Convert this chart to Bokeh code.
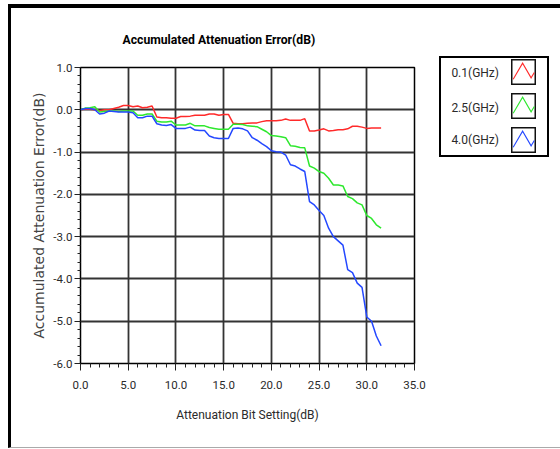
from bokeh.plotting import figure
from bokeh.layouts import row
from bokeh.models import Range1d, FixedTicker, PrintfTickFormatter, Div
from bokeh.embed import file_html
from bokeh.resources import INLINE

# ---------------- data ----------------
atten_setting = [0.0, 0.5, 1.0, 1.5, 2.0, 2.5, 3.0, 3.5, 4.0, 4.5, 5.0, 5.5, 6.0, 6.5, 7.0, 7.5,
                 8.0, 8.5, 9.0, 9.5, 10.0, 10.5, 11.0, 11.5, 12.0, 12.5, 13.0, 13.5, 14.0, 14.5, 15.0, 15.5,
                 16.0, 16.5, 17.0, 17.5, 18.0, 18.5, 19.0, 19.5, 20.0, 20.5, 21.0, 21.5, 22.0, 22.5, 23.0, 23.5,
                 24.0, 24.5, 25.0, 25.5, 26.0, 26.5, 27.0, 27.5, 28.0, 28.5, 29.0, 29.5, 30.0, 30.5, 31.0, 31.5]

err_0_1ghz = [0.0, 0.02, 0.01, 0.0, -0.02, 0.0, 0.0, 0.03, 0.06, 0.1, 0.1, 0.07, 0.09, 0.05, 0.06, 0.09,
              -0.17, -0.19, -0.19, -0.2, -0.2, -0.16, -0.16, -0.15, -0.13, -0.13, -0.13, -0.1, -0.1, -0.13, -0.11, -0.11,
              -0.32, -0.33, -0.33, -0.32, -0.31, -0.31, -0.28, -0.26, -0.26, -0.26, -0.25, -0.22, -0.25, -0.25, -0.25, -0.21,
              -0.5, -0.5, -0.48, -0.45, -0.5, -0.49, -0.47, -0.47, -0.45, -0.39, -0.39, -0.41, -0.44, -0.43, -0.43, -0.43]

err_2_5ghz = [0.0, 0.04, 0.05, 0.07, -0.05, -0.04, -0.03, -0.03, -0.04, -0.03, -0.03, -0.03, -0.13, -0.13, -0.1, -0.1,
              -0.27, -0.29, -0.29, -0.27, -0.36, -0.36, -0.36, -0.32, -0.38, -0.38, -0.38, -0.42, -0.44, -0.46, -0.46, -0.46,
              -0.34, -0.34, -0.35, -0.38, -0.39, -0.4, -0.46, -0.52, -0.61, -0.62, -0.64, -0.66, -0.85, -0.86, -0.89, -0.9,
              -1.33, -1.38, -1.46, -1.5, -1.62, -1.78, -1.78, -1.8, -2.05, -2.1, -2.2, -2.25, -2.5, -2.57, -2.72, -2.8]

err_4_0ghz = [0.0, 0.03, 0.03, 0.0, -0.1, -0.08, -0.03, -0.04, -0.05, -0.05, -0.05, -0.07, -0.19, -0.19, -0.15, -0.15,
              -0.33, -0.36, -0.37, -0.35, -0.44, -0.44, -0.44, -0.41, -0.48, -0.49, -0.49, -0.62, -0.66, -0.68, -0.68, -0.68,
              -0.44, -0.43, -0.45, -0.5, -0.66, -0.72, -0.8, -0.87, -0.97, -0.99, -1.0, -1.07, -1.3, -1.33, -1.4, -1.46,
              -2.17, -2.25, -2.38, -2.5, -2.8, -3.0, -3.1, -3.2, -3.78, -3.85, -4.1, -4.2, -4.9, -5.0, -5.35, -5.58]

series_names = ["0.1(GHz)", "2.5(GHz)", "4.0(GHz)"]
series_values = [err_0_1ghz, err_2_5ghz, err_4_0ghz]
series_colors = ["#ff2a2a", "#2ee82e", "#2448ff"]

x_major = [0, 5, 10, 15, 20, 25, 30, 35]
x_minor = list(range(0, 36))
y_major = [1, 0, -1, -2, -3, -4, -5, -6]
y_minor = [v / 5 for v in range(-30, 6)]

# ---------------- styles ----------------
FONT = "Roboto"
TXT = "#2a2a2a"
GRID = "#333333"

FRAME_W, FRAME_H = 334, 296
BL, BR, BT, BB = 69, 24, 59, 84
W = BL + FRAME_W + BR
H = BT + FRAME_H + BB
LEG_W = 122

# ---------------- main plot ----------------
p = figure(width=W, height=H, x_range=Range1d(0, 35), y_range=Range1d(-6, 1),
           output_backend="svg", toolbar_location=None,
           min_border_left=BL, min_border_right=BR, min_border_top=BT, min_border_bottom=BB)

p.title.text = "Accumulated Attenuation Error(dB)"
p.title.align = "left"
p.title.offset = 42
p.title.standoff = 41
p.title.text_font = FONT
p.title.text_font_size = "12.2px"
p.title.text_font_style = "bold"
p.title.text_color = "black"

p.xaxis.ticker = FixedTicker(ticks=x_major, minor_ticks=x_minor)
p.yaxis.ticker = FixedTicker(ticks=y_major, minor_ticks=y_minor)
p.xaxis.formatter = PrintfTickFormatter(format="%.1f")
p.yaxis.formatter = PrintfTickFormatter(format="%.1f")

for ax in (p.xaxis, p.yaxis):
    ax.axis_line_color = "black"
    ax.major_tick_line_color = "#222222"
    ax.minor_tick_line_color = "#222222"
    ax.major_tick_in = 0
    ax.minor_tick_in = 0
    ax.major_label_text_font = FONT
    ax.major_label_text_font_size = "11.5px"
    ax.major_label_text_color = TXT

p.xaxis.major_tick_out = 7
p.xaxis.minor_tick_out = 4
p.xaxis.major_label_standoff = 10
p.xaxis.axis_label = "Attenuation Bit Setting(dB)"
p.xaxis.axis_label_text_font = FONT
p.xaxis.axis_label_text_font_size = "12px"
p.xaxis.axis_label_text_font_style = "normal"
p.xaxis.axis_label_text_color = TXT
p.xaxis.axis_label_standoff = 16

p.yaxis.major_tick_out = 6
p.yaxis.minor_tick_out = 3
p.yaxis.major_label_standoff = 2
p.yaxis.axis_label = "Accumulated Attenuation Error(dB)"
p.yaxis.axis_label_text_font = "DejaVu Sans"
p.yaxis.axis_label_text_font_size = "14px"
p.yaxis.axis_label_text_font_style = "normal"
p.yaxis.axis_label_text_color = "#444444"
p.yaxis.axis_label_standoff = 3

p.xgrid.ticker = FixedTicker(ticks=x_major)
p.ygrid.ticker = FixedTicker(ticks=y_major)
p.grid.grid_line_color = GRID
p.grid.grid_line_width = 1.8
p.outline_line_color = "black"
p.outline_line_width = 1.5
p.background_fill_color = "white"
p.border_fill_color = "white"

for vals, col in zip(series_values, series_colors):
    p.line(atten_setting, vals, line_color=col, line_width=1.5)

# ---------------- legend panel (HTML, right of the plot) ----------------
BOX_L, BOX_T, BOX_W, BOX_H = 1, 48, 110, 101
ICON_L, ICON_W, ICON_H = 73, 25, 26
ICON_C = [64, 98, 131.5]
TEXT_R, TEXT_C = 61, [65, 99.5, 132]
zig_fx = [0.05, 0.46, 0.83, 0.97]
zig_fy = [0.8, 0.13, 0.74, 0.52]

parts = [f'<div style="position:relative;width:{LEG_W}px;height:{H}px;font-family:{FONT};'
         f'font-size:12px;color:{TXT};">',
         f'<div style="position:absolute;left:{BOX_L}px;top:{BOX_T}px;width:{BOX_W}px;height:{BOX_H}px;'
         f'box-sizing:border-box;border:2px solid black;"></div>']
for name, col, ic, tc in zip(series_names, series_colors, ICON_C, TEXT_C):
    parts.append(f'<div style="position:absolute;right:{LEG_W - TEXT_R}px;top:{tc - 8}px;'
                 f'line-height:16px;white-space:nowrap;">{name}</div>')
    pts = " ".join(f"{1 + fx * (ICON_W - 2):.1f},{1 + fy * (ICON_H - 2):.1f}"
                   for fx, fy in zip(zig_fx, zig_fy))
    parts.append(f'<svg width="{ICON_W}" height="{ICON_H}" style="position:absolute;left:{ICON_L}px;'
                 f'top:{ic - ICON_H / 2}px;">'
                 f'<rect x="0.75" y="0.75" width="{ICON_W - 1.5}" height="{ICON_H - 1.5}" fill="white" '
                 f'stroke="#111" stroke-width="1.5"/>'
                 f'<polyline points="{pts}" fill="none" stroke="{col}" stroke-width="1.1"/></svg>')
parts.append('</div>')
legend_div = Div(text="".join(parts), width=LEG_W, height=H, margin=0)

layout = row(p, legend_div, margin=(4, 0, 0, 8),
             styles={"border-left": "3px solid black", "border-top": "4px solid black",
                     "border-bottom": "1px solid #aaaaaa"})

open("out.html", "w").write(file_html(layout, INLINE))
